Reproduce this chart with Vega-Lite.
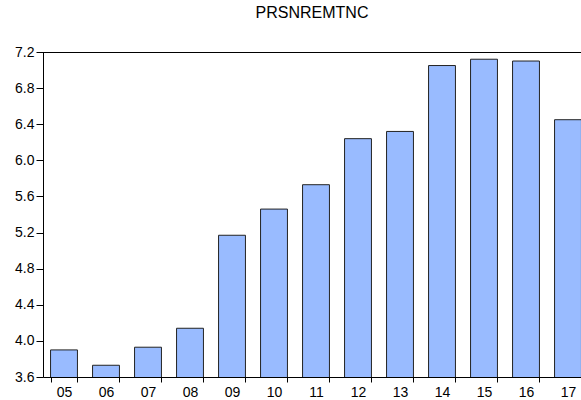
{
  "$schema": "https://vega.github.io/schema/vega-lite/v6.json",
  "autosize": "none",
  "width": 538,
  "height": 325,
  "padding": {"left": 43, "top": 52, "right": 0, "bottom": 23},
  "background": "white",
  "title": {"text": "PRSNREMTNC", "fontSize": 16, "font": "Liberation Sans", "fontWeight": "normal", "color": "black", "offset": 24, "anchor": "middle"},
  "config": {"view": {"stroke": null}},
  "data": {"values": [
    {"year": "05", "value": 3.90},
    {"year": "06", "value": 3.73},
    {"year": "07", "value": 3.93},
    {"year": "08", "value": 4.14},
    {"year": "09", "value": 5.17},
    {"year": "10", "value": 5.46},
    {"year": "11", "value": 5.73},
    {"year": "12", "value": 6.24},
    {"year": "13", "value": 6.32},
    {"year": "14", "value": 7.05},
    {"year": "15", "value": 7.12},
    {"year": "16", "value": 7.10},
    {"year": "17", "value": 6.45}
  ]},
  "layer": [
    {
      "mark": {"type": "bar", "fill": "#99BBFF", "stroke": "#222222", "strokeWidth": 1, "clip": true},
      "encoding": {
        "x": {"field": "year", "type": "ordinal", "sort": null,
          "scale": {"range": [0, 546], "paddingInner": 0.36, "paddingOuter": 0.18},
          "axis": {"title": null, "labelAngle": 0, "tickBand": "extent", "domainColor": "black", "tickColor": "black", "tickSize": 5, "labelPadding": 3, "labelFont": "Liberation Sans", "labelFontSize": 14, "labelColor": "black"}},
        "y": {"field": "value", "type": "quantitative",
          "scale": {"domain": [3.6, 7.2], "zero": false, "nice": false},
          "axis": {"title": null, "values": [3.6, 4.0, 4.4, 4.8, 5.2, 5.6, 6.0, 6.4, 6.8, 7.2], "tickCount": 20, "format": ".1f", "grid": false, "labelOverlap": false, "labelFlush": false, "domainColor": "black", "tickColor": "black", "tickSize": 7, "labelPadding": 2, "labelFont": "Liberation Sans", "labelFontSize": 14, "labelColor": "black"}}
      }
    },
    {
      "mark": {"type": "rule", "color": "black", "strokeWidth": 1, "yOffset": 0.5},
      "encoding": {"y": {"datum": 7.2}}
    }
  ]
}
